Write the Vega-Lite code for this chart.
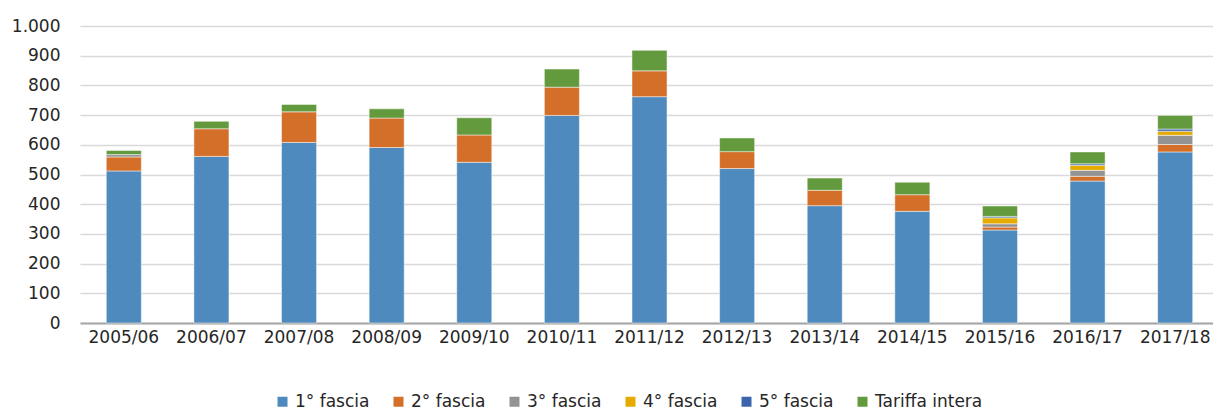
{
  "$schema": "https://vega.github.io/schema/vega-lite/v6.json",
  "autosize": {"type": "none"},
  "padding": {"left": 80, "top": 26, "right": 0, "bottom": 87},
  "width": 1139,
  "height": 297,
  "background": "white",
  "data": {"values": [
    {"anno": "2005/06", "fascia": "1° fascia", "valore": 512},
    {"anno": "2005/06", "fascia": "2° fascia", "valore": 47},
    {"anno": "2005/06", "fascia": "3° fascia", "valore": 8},
    {"anno": "2005/06", "fascia": "Tariffa intera", "valore": 14},
    {"anno": "2006/07", "fascia": "1° fascia", "valore": 561},
    {"anno": "2006/07", "fascia": "2° fascia", "valore": 93},
    {"anno": "2006/07", "fascia": "Tariffa intera", "valore": 25},
    {"anno": "2007/08", "fascia": "1° fascia", "valore": 608},
    {"anno": "2007/08", "fascia": "2° fascia", "valore": 103},
    {"anno": "2007/08", "fascia": "Tariffa intera", "valore": 25},
    {"anno": "2008/09", "fascia": "1° fascia", "valore": 591},
    {"anno": "2008/09", "fascia": "2° fascia", "valore": 99},
    {"anno": "2008/09", "fascia": "Tariffa intera", "valore": 31},
    {"anno": "2009/10", "fascia": "1° fascia", "valore": 541},
    {"anno": "2009/10", "fascia": "2° fascia", "valore": 92},
    {"anno": "2009/10", "fascia": "Tariffa intera", "valore": 58},
    {"anno": "2010/11", "fascia": "1° fascia", "valore": 699},
    {"anno": "2010/11", "fascia": "2° fascia", "valore": 95},
    {"anno": "2010/11", "fascia": "Tariffa intera", "valore": 61},
    {"anno": "2011/12", "fascia": "1° fascia", "valore": 762},
    {"anno": "2011/12", "fascia": "2° fascia", "valore": 87},
    {"anno": "2011/12", "fascia": "Tariffa intera", "valore": 69},
    {"anno": "2012/13", "fascia": "1° fascia", "valore": 520},
    {"anno": "2012/13", "fascia": "2° fascia", "valore": 57},
    {"anno": "2012/13", "fascia": "Tariffa intera", "valore": 46},
    {"anno": "2013/14", "fascia": "1° fascia", "valore": 395},
    {"anno": "2013/14", "fascia": "2° fascia", "valore": 52},
    {"anno": "2013/14", "fascia": "Tariffa intera", "valore": 41},
    {"anno": "2014/15", "fascia": "1° fascia", "valore": 376},
    {"anno": "2014/15", "fascia": "2° fascia", "valore": 56},
    {"anno": "2014/15", "fascia": "Tariffa intera", "valore": 42},
    {"anno": "2015/16", "fascia": "1° fascia", "valore": 313},
    {"anno": "2015/16", "fascia": "2° fascia", "valore": 10},
    {"anno": "2015/16", "fascia": "3° fascia", "valore": 11},
    {"anno": "2015/16", "fascia": "4° fascia", "valore": 20},
    {"anno": "2015/16", "fascia": "5° fascia", "valore": 5},
    {"anno": "2015/16", "fascia": "Tariffa intera", "valore": 35},
    {"anno": "2016/17", "fascia": "1° fascia", "valore": 478},
    {"anno": "2016/17", "fascia": "2° fascia", "valore": 16},
    {"anno": "2016/17", "fascia": "3° fascia", "valore": 20},
    {"anno": "2016/17", "fascia": "4° fascia", "valore": 17},
    {"anno": "2016/17", "fascia": "5° fascia", "valore": 5},
    {"anno": "2016/17", "fascia": "Tariffa intera", "valore": 40},
    {"anno": "2017/18", "fascia": "1° fascia", "valore": 576},
    {"anno": "2017/18", "fascia": "2° fascia", "valore": 25},
    {"anno": "2017/18", "fascia": "3° fascia", "valore": 31},
    {"anno": "2017/18", "fascia": "4° fascia", "valore": 14},
    {"anno": "2017/18", "fascia": "5° fascia", "valore": 7},
    {"anno": "2017/18", "fascia": "Tariffa intera", "valore": 46}
  ]},
  "mark": {"type": "bar", "stroke": "white", "strokeWidth": 0.8, "strokeOpacity": 0.6},
  "encoding": {
    "x": {
      "field": "anno", "type": "nominal", "sort": null,
      "scale": {"paddingInner": 0.6, "paddingOuter": 0.3},
      "axis": {"title": null, "labelAngle": 0, "ticks": false, "labelPadding": 6, "grid": false,
               "labelOverlap": false,
               "domainColor": "#A6A6A6", "domainWidth": 2, "labelFontSize": 17, "labelColor": "#262626", "labelFont": "DejaVu Sans"}
    },
    "y": {
      "field": "valore", "type": "quantitative", "aggregate": "sum",
      "scale": {"domain": [0, 1000]},
      "axis": {"title": null, "values": [0,100,200,300,400,500,600,700,800,900,1000],
               "labelExpr": "replace(format(datum.value, ','), ',', '.')",
               "labelOverlap": false,
               "domain": false, "ticks": false, "labelPadding": 20,
               "gridColor": "#D9D9D9", "gridWidth": 1.5,
               "labelFontSize": 17, "labelColor": "#262626", "labelFont": "DejaVu Sans"}
    },
    "color": {
      "field": "fascia", "type": "nominal",
      "scale": {
        "domain": ["1° fascia", "2° fascia", "3° fascia", "4° fascia", "5° fascia", "Tariffa intera"],
        "range": ["#4F8ABE", "#D46F29", "#939393", "#E5AB00", "#3B64AD", "#639A3D"]
      },
      "legend": {"title": null, "orient": "none", "legendX": 194, "legendY": 367, "direction": "horizontal",
                 "symbolType": "square", "padding": 0,
                 "symbolSize": 100, "symbolStrokeWidth": 0, "labelFontSize": 17, "labelFont": "DejaVu Sans",
                 "labelColor": "#262626", "columnPadding": 20, "labelOffset": 4}
    },
    "order": {"field": "fascia", "type": "nominal", "sort": "ascending"}
  },
  "config": {"view": {"stroke": null}}
}
